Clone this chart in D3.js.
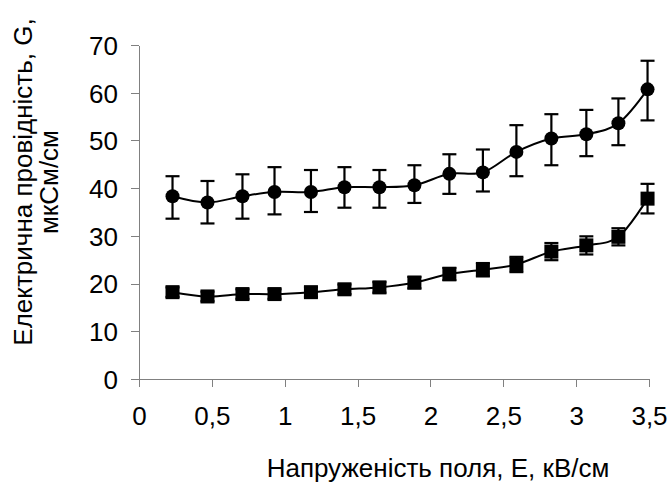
<!DOCTYPE html>
<html><head><meta charset="utf-8">
<script src="https://cdn.jsdelivr.net/npm/d3@7"></script>
<style>body{margin:0;background:#fff}svg{display:block}text{font-family:"Liberation Sans",Arial,sans-serif;fill:#000}</style>
</head><body><div id="chart"></div>
<script>
const fieldE = [0.23,0.47,0.71,0.93,1.18,1.41,1.65,1.89,2.13,2.36,2.59,2.83,3.07,3.29,3.49];
const seriesCircle = [38.3,37.0,38.3,39.2,39.2,40.2,40.2,40.6,43.0,43.3,47.6,50.4,51.3,53.6,60.7];
const errCircleHi = [42.5,41.5,42.9,44.4,43.8,44.4,43.8,44.8,47.1,48.1,53.2,55.5,56.4,58.8,66.7];
const errCircleLo = [33.6,32.6,33.6,34.5,35.0,35.9,35.9,36.9,38.8,39.3,42.5,44.8,46.7,49.0,54.2];
const seriesSquare = [18.2,17.3,17.8,17.8,18.2,18.8,19.2,20.2,22.0,22.9,24.0,26.7,28.0,29.8,37.8];
const errSquare = [1.0,1.0,1.0,1.0,1.0,1.0,1.1,1.2,1.3,1.4,1.6,1.8,1.9,1.8,3.1];
const xTicks = [0,0.5,1,1.5,2,2.5,3,3.5];
const xTickLabels = ["0","0,5","1","1,5","2","2,5","3","3,5"];
const yTicks = [0,10,20,30,40,50,60,70];
const xTitle = "Напруженість поля, Е, кВ/см";
const yTitle1 = "Електрична провідність, G,";
const yTitle2 = "мкСм/см";

const W = 672, H = 486;
const svg = d3.select("#chart").append("svg").attr("width", W).attr("height", H);
const x = d3.scaleLinear().domain([0,3.5]).range([139,649]);
const y = d3.scaleLinear().domain([0,70]).range([379,45]);
const fs = 26;

// axes
const gx = svg.append("g").attr("transform","translate(0,379)")
  .call(d3.axisBottom(x).tickValues(xTicks).tickFormat((d,i)=>xTickLabels[i]).tickSize(8).tickSizeOuter(0));
const gy = svg.append("g").attr("transform","translate(139,0)")
  .call(d3.axisLeft(y).tickValues(yTicks).tickSize(8).tickSizeOuter(0).tickPadding(13));
[gx,gy].forEach(g=>{
  g.selectAll("path,line").attr("stroke","#808080").attr("stroke-width",1).attr("shape-rendering","crispEdges");
  g.selectAll("text").attr("font-size",fs).attr("font-family","Liberation Sans, Arial, sans-serif").attr("fill","#000");
});
gy.selectAll("text").attr("dy","0.36em");
gx.selectAll("text").attr("y",46).attr("dy",0);

const line = d3.line().curve(d3.curveCatmullRom.alpha(0)).x((d,i)=>x(fieldE[i])).y(d=>y(d));

function errBars(lo, hi){
  const g = svg.append("g").attr("stroke","#000").attr("stroke-width",2.2);
  fieldE.forEach((e,i)=>{
    g.append("line").attr("x1",x(e)).attr("x2",x(e)).attr("y1",y(lo[i])).attr("y2",y(hi[i]));
    [lo[i],hi[i]].forEach(v=>g.append("line").attr("x1",x(e)-7).attr("x2",x(e)+7).attr("y1",y(v)).attr("y2",y(v)));
  });
}
errBars(errCircleLo, errCircleHi);
errBars(seriesSquare.map((v,i)=>v-errSquare[i]), seriesSquare.map((v,i)=>v+errSquare[i]));

svg.append("path").attr("d",line(seriesCircle)).attr("fill","none").attr("stroke","#000").attr("stroke-width",2);
svg.append("path").attr("d",line(seriesSquare)).attr("fill","none").attr("stroke","#000").attr("stroke-width",2);

svg.append("g").selectAll("circle").data(seriesCircle).join("circle")
  .attr("cx",(d,i)=>x(fieldE[i])).attr("cy",d=>y(d)).attr("r",7).attr("fill","#000");
svg.append("g").selectAll("rect").data(seriesSquare).join("rect")
  .attr("x",(d,i)=>x(fieldE[i])-7).attr("y",d=>y(d)-7).attr("width",14).attr("height",14).attr("fill","#000");

svg.append("text").attr("x",438).attr("y",477).attr("text-anchor","middle").attr("font-size",fs).text(xTitle);
svg.append("text").attr("transform","translate(32,182) rotate(-90)").attr("text-anchor","middle").attr("font-size",fs).text(yTitle1);
svg.append("text").attr("transform","translate(58,182) rotate(-90)").attr("text-anchor","middle").attr("font-size",fs).text(yTitle2);
</script></body></html>
